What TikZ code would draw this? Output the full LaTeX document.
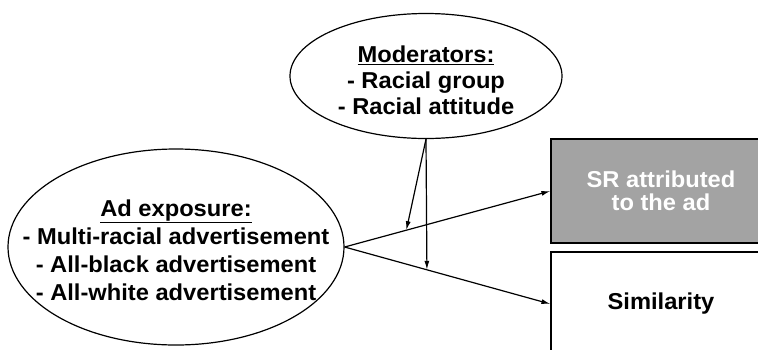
\documentclass[tikz,border=0pt]{standalone}
\usepackage{fontspec}
\setmainfont{Liberation Sans}[FakeStretch=1.03]
\usetikzlibrary{arrows.meta,calc,shapes.geometric}
\definecolor{srgray}{RGB}{163,163,163}

\begin{document}
\begin{tikzpicture}[x=1pt, y=-1pt, >={Latex[length=9pt,width=5pt]}, line width=1.2pt,
    oval/.style={draw, ellipse, inner sep=0pt},
    ovaltext/.style={align=center, inner sep=0pt, font=\bfseries\fontsize{23}{28}\selectfont},
    outbox/.style={draw, rectangle, inner sep=0pt, minimum width=220pt, minimum height=104pt, align=center, font=\bfseries\fontsize{23}{23}\selectfont}]
  \useasboundingbox (0,0) rectangle (758,349);
  \node[oval, minimum width=272pt, minimum height=125pt] (mod) at (426,76) {};
  \node[ovaltext, font=\bfseries\fontsize{23}{26}\selectfont] (modtext) at ($(mod)+(0,4)$)
    {\underline{Moderators:}\\- Racial group\\- Racial attitude};
  \node[oval, minimum width=336pt, minimum height=196pt] (adexp) at (176,247) {};
  \node[ovaltext] (adtext) at ($(adexp)+(0,3)$)
    {\underline{Ad exposure:}\\- Multi-racial advertisement\\- All-black advertisement\\- All-white advertisement};
  \node[outbox, fill=srgray, text=white] (sr) at (661,191) {SR attributed\\to the ad};
  \node[outbox] (sim) at (661,304) {Similarity};
  \draw[->] (adexp.east) -- (sr.west);
  \draw[->] (adexp.east) -- (sim.west);
  \coordinate (m1) at ($(adexp.east)!0.30!(sr.west)$);
  \coordinate (m2) at ($(adexp.east)!0.40!(sim.west)$);
  \draw[->] (mod.south) -- (m1);
  \draw[->] (mod.south) -- (m2);
\end{tikzpicture}
\end{document}
